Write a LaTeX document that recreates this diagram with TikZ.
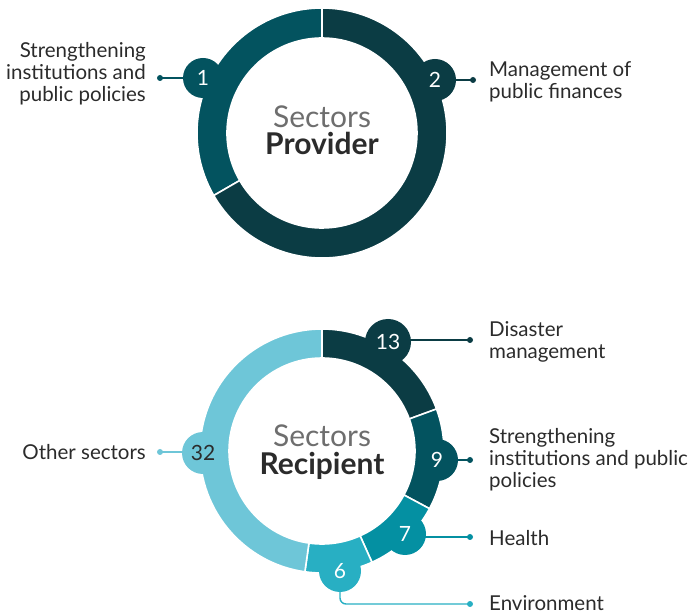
\documentclass[tikz,border=0pt]{standalone}
\usepackage{fontspec}
\setmainfont{Lato}
\usepackage{tikz}
\usetikzlibrary{calc}
\definecolor{secA}{HTML}{0B3C44}
\definecolor{secB}{HTML}{03535F}
\definecolor{secC}{HTML}{0490A2}
\definecolor{secD}{HTML}{28AFC3}
\definecolor{secE}{HTML}{6EC6D8}
\definecolor{txt}{HTML}{2B2B2B}
\definecolor{soft}{HTML}{6E6E6E}
\begin{document}
\begin{tikzpicture}[x=1pt,y=1pt,
    badge/.style={circle,minimum size=42pt,inner sep=0pt,text=white,
      font=\fontsize{21}{21}\selectfont},
    piece/.style={draw=white,line width=1.6pt},
    link/.style={line width=1.4pt},
    lbl/.style={text=txt,inner sep=0pt,font=\fontsize{20.5}{22}\selectfont},
    title/.style={inner sep=0pt,align=center,text=txt,font=\fontsize{30}{27.5}\selectfont}]
        \useasboundingbox (0,0) rectangle (689,614);
        % provider ring
        \coordinate (top) at (322,481);
        \fill[secB,piece] (top) ++(90:125) arc[start angle=90,end angle=210,radius=125]
          -- ++(210:-30) arc[start angle=210,end angle=90,radius=95] -- cycle;
        \fill[secA,piece] (top) ++(210:125) arc[start angle=210,end angle=450,radius=125]
          -- ++(90:-30) arc[start angle=450,end angle=210,radius=95] -- cycle;
        \node[title] (ptitle) at (322,484) {{\color{soft}Sectors}\\\textbf{Provider}};
        % labels and badges
        \coordinate (pd1) at (160,536);
        \coordinate (pd2) at (473,534);
        \draw[secB,link] (pd1) -- (203,536);
        \draw[secA,link] (pd2) -- (435,534);
        \fill[secB] (pd1) circle(3);
        \fill[secA] (pd2) circle(3);
        \node[badge,fill=secB,minimum size=40pt] (pb1) at (203,536) {1};
        \node[badge,fill=secA,minimum size=42pt] (pb2) at (435,534) {2};
        \node[lbl,anchor=east,align=right] (pl1) at (146,540)
          {Strengthening\\institutions and\\public policies};
        \node[lbl,anchor=west,align=left] (pl2) at (489,532)
          {Management of\\public finances};
        % recipient ring
        \coordinate (bot) at (322,163);
        \fill[secA,piece] (bot) ++(90:122) arc[start angle=90,end angle=20.15,radius=122]
          -- ++(20.15:-29) arc[start angle=20.15,end angle=90,radius=93] -- cycle;
        \fill[secB,piece] (bot) ++(20.15:122) arc[start angle=20.15,end angle=-28.21,radius=122]
          -- ++(-28.21:-29) arc[start angle=-28.21,end angle=20.15,radius=93] -- cycle;
        \fill[secC,piece] (bot) ++(-28.21:122) arc[start angle=-28.21,end angle=-65.82,radius=122]
          -- ++(-65.82:-29) arc[start angle=-65.82,end angle=-28.21,radius=93] -- cycle;
        \fill[secD,piece] (bot) ++(-65.82:122) arc[start angle=-65.82,end angle=-98.06,radius=122]
          -- ++(-98.06:-29) arc[start angle=-98.06,end angle=-65.82,radius=93] -- cycle;
        \fill[secE,piece] (bot) ++(-98.06:122) arc[start angle=-98.06,end angle=-270,radius=122]
          -- ++(-270:-29) arc[start angle=-270,end angle=-98.06,radius=93] -- cycle;
        \node[title] (rtitle) at (322,162) {{\color{soft}Sectors}\\\textbf{Recipient}};
        % dots
        \coordinate (rd1) at (470,274);
        \coordinate (rd2) at (470,154);
        \coordinate (rd3) at (470,77);
        \coordinate (rd4) at (470,10);
        \coordinate (rd5) at (160,162);
        \draw[secA,link] (rd1) -- (388,274);
        \draw[secB,link] (rd2) -- (437,154);
        \draw[secC,link] (rd3) -- (405,77);
        \draw[secD,link,rounded corners=6pt] (340,43) |- (rd4);
        \draw[secE,link] (rd5) -- (203,162);
        \fill[secA] (rd1) circle(3);
        \fill[secB] (rd2) circle(3);
        \fill[secC] (rd3) circle(3);
        \fill[secD] (rd4) circle(3);
        \fill[secE] (rd5) circle(3);
        \node[badge,fill=secA,minimum size=46pt] (rb1) at (388,272) {13};
        \node[badge,fill=secB] (rb2) at (437,154) {9};
        \node[badge,fill=secC] (rb3) at (405,80) {7};
        \node[badge,fill=secD] (rb4) at (340,43) {6};
        \node[badge,fill=secE,text=txt] (rb5) at (203,161) {32};
        \node[lbl,anchor=west,align=left] (rl1) at (489,272) {Disaster\\management};
        \node[lbl,anchor=west,align=left] (rl2) at (489,154)
          {Strengthening\\institutions and public\\policies};
        \node[lbl,anchor=west] (rl3) at (489,76) {Health};
        \node[lbl,anchor=west] (rl4) at (489,11) {Environment};
        \node[lbl,anchor=east] (rl5) at (146,162) {Other sectors};
\end{tikzpicture}
\end{document}
